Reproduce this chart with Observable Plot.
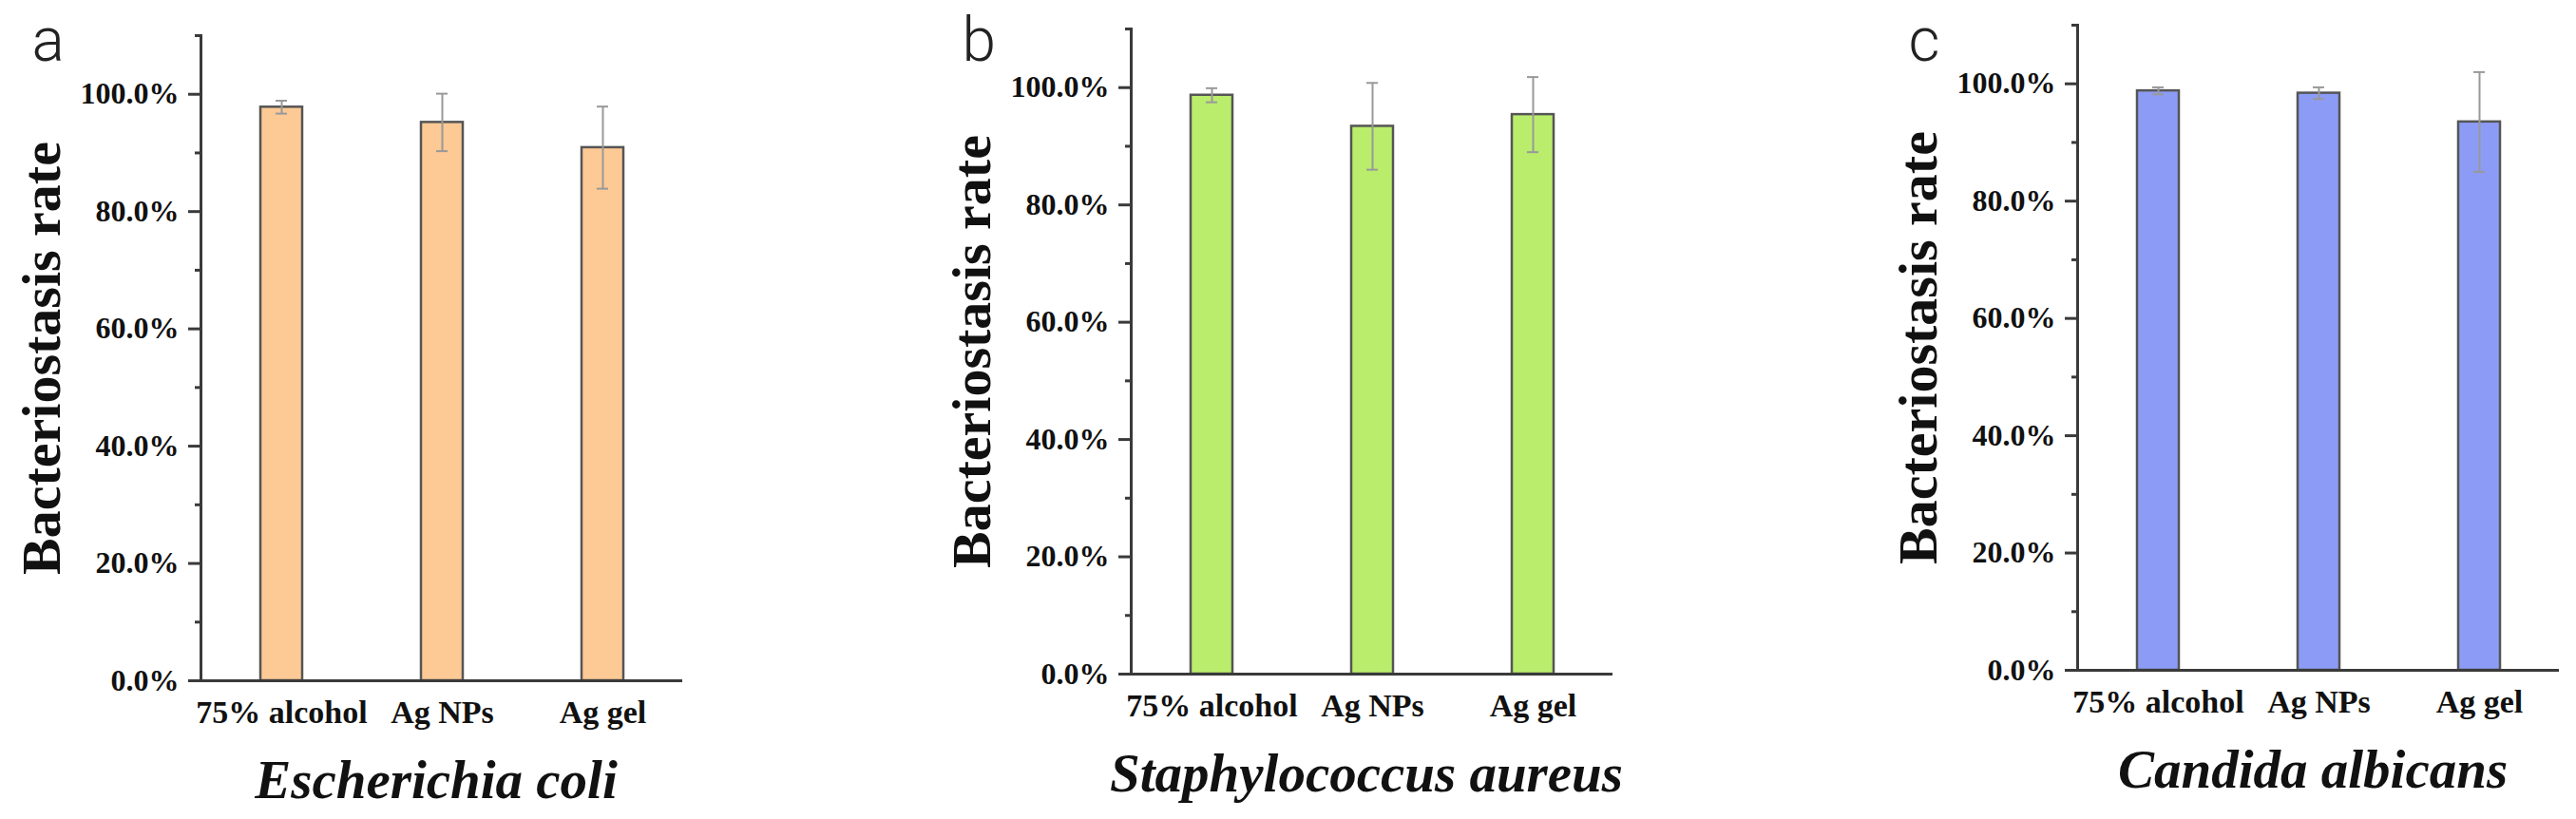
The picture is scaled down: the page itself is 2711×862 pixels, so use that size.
<!DOCTYPE html>
<html>
<head>
<meta charset="utf-8">
<script src="https://cdn.jsdelivr.net/npm/d3@7"></script>
<script src="https://cdn.jsdelivr.net/npm/@observablehq/plot@0.6"></script>
<style>
  html, body { margin: 0; padding: 0; background: #fff; }
  #wrap { position: relative; width: 2711px; height: 862px; overflow: hidden; background: #fff; }
  .panel { position: absolute; top: 0; }
</style>
</head>
<body>
<div id="wrap"></div>
<script>
// ---- data ----
const categories = ["75% alcohol", "Ag NPs", "Ag gel"];
const organisms = ["Escherichia coli", "Staphylococcus aureus", "Candida albicans"];
const panelLetters = ["a", "b", "c"];
const ecoliRate = [97.8, 95.2, 90.9];
const ecoliErr = [1.1, 4.9, 7.0];
const saureusRate = [98.7, 93.4, 95.4];
const saureusErr = [1.2, 7.4, 6.4];
const calbicansRate = [98.8, 98.4, 93.5];
const calbicansErr = [0.6, 1.0, 8.5];
const yTicks = [0, 20, 40, 60, 80, 100];
const yMinorTicks = [10, 30, 50, 70, 90, 110];
const yLabel = "Bacteriostasis rate";

// ---- styling / layout ----
const fills = ["#fdc995", "#baed6c", "#8c9cf6"];
const axisColor = "#3a3a3a";
const serif = "'Liberation Serif', 'Times New Roman', serif";
const panels = [
  {left: 0,    width: 760, shift: 0},
  {left: 979,  width: 760, shift: -7},
  {left: 1975, width: 736, shift: -11}
];
const rates = [ecoliRate, saureusRate, calbicansRate];
const errs = [ecoliErr, saureusErr, calbicansErr];

const wrap = document.getElementById("wrap");

panels.forEach((p, k) => {
  const data = categories.map((c, i) => ({cat: c, v: rates[k][i], e: errs[k][i]}));
  const mTop = 37 + p.shift;
  const mBottom = 862 - (716 + p.shift);
  const chart = Plot.plot({
    width: p.width,
    height: 862,
    marginLeft: 211,
    marginRight: p.width - 211 - 507,
    marginTop: mTop,
    marginBottom: mBottom,
    style: {fontFamily: serif, color: "#111", background: "white", overflow: "visible"},
    x: {domain: categories, paddingInner: 0.74, paddingOuter: 0.37, label: null},
    y: {domain: [0, 110], label: null},
    marks: [
      Plot.barY(data, {x: "cat", y: "v", fill: fills[k], stroke: "#555", strokeWidth: 2.5}),
      Plot.ruleX(data, {x: "cat", y1: d => d.v - d.e, y2: d => d.v + d.e, stroke: "#999", strokeWidth: 2}),
      Plot.tickY(data, {x: "cat", y: d => d.v + d.e, stroke: "#999", strokeWidth: 2, insetLeft: 16, insetRight: 16}),
      Plot.tickY(data, {x: "cat", y: d => d.v - d.e, stroke: "#999", strokeWidth: 2, insetLeft: 16, insetRight: 16}),
      Plot.axisY({ticks: yMinorTicks, tickSize: 6, tickFormat: () => "", stroke: axisColor, strokeWidth: 3, label: null}),
      Plot.axisY({ticks: yTicks, tickSize: 13, tickPadding: 10, tickFormat: d => d.toFixed(1) + "%",
        stroke: axisColor, strokeWidth: 3, fontSize: 32, fontWeight: "bold", fill: "#111", label: null}),
      Plot.axisX({tickSize: 0, tickPadding: 20, fontSize: 34, fontWeight: "bold", fill: "#111", label: null}),
      Plot.frame({anchor: "left", stroke: axisColor, strokeWidth: 3}),
      Plot.ruleY([0], {stroke: axisColor, strokeWidth: 3}),
      Plot.text([yLabel], {frameAnchor: "left", rotate: -90, dx: -149, textAnchor: "middle", lineAnchor: "bottom",
        fontSize: 58, fontWeight: "bold", fill: "#111"}),
      Plot.text([organisms[k]], {frameAnchor: "bottom", dy: 123, dx: -6, textAnchor: "middle", lineAnchor: "bottom",
        fontSize: 57, fontWeight: "bold", fontStyle: "italic", fill: "#111"}),
      Plot.text([panelLetters[k]], {frameAnchor: "top-left", dx: -178, dy: 26 - p.shift, textAnchor: "start", lineAnchor: "bottom",
        fontSize: 64, fontWeight: 300, fontFamily: "Roboto, 'Liberation Sans', sans-serif", fill: "#222"})
    ]
  });
  const div = document.createElement("div");
  div.className = "panel";
  div.style.left = p.left + "px";
  div.appendChild(chart);
  wrap.appendChild(div);
});
</script>
</body>
</html>
